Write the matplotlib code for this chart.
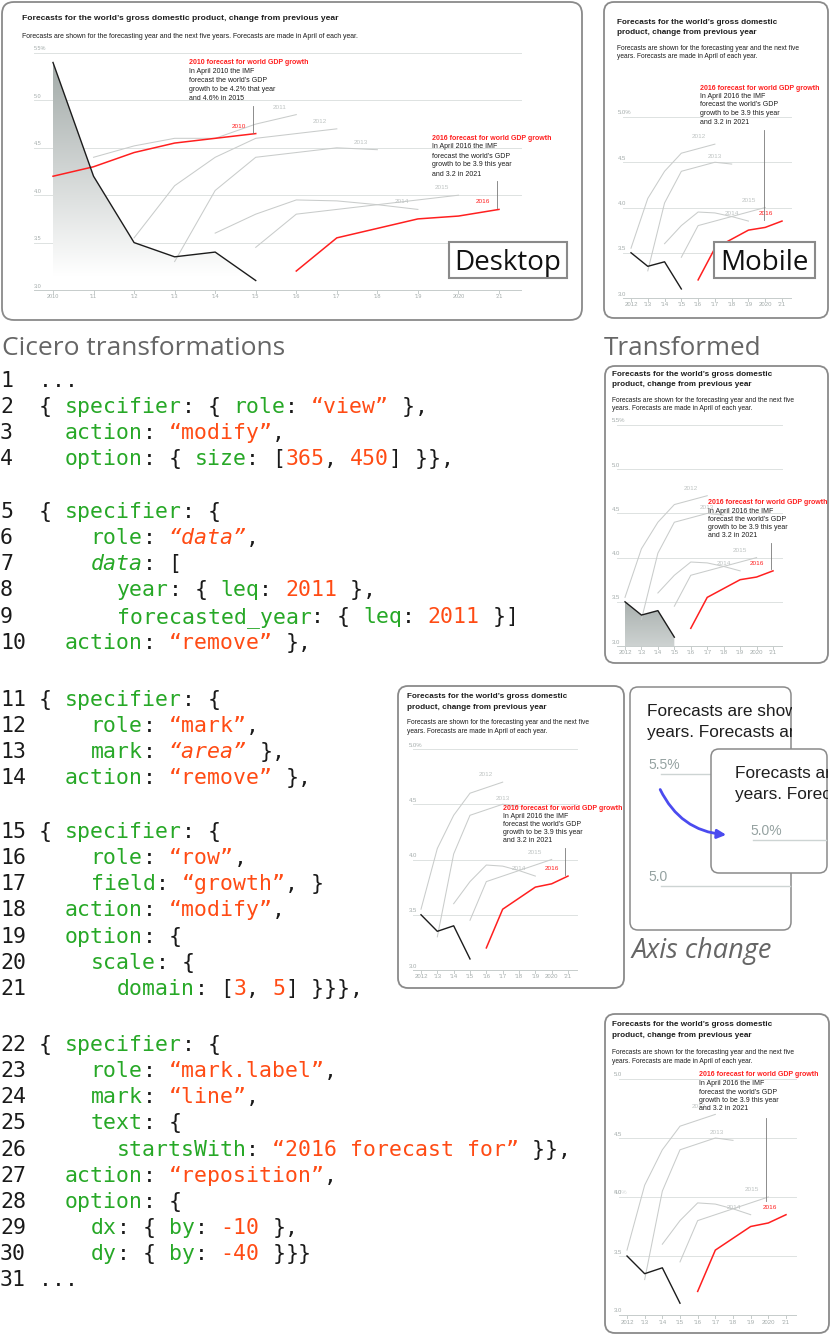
import re
import numpy as np
import matplotlib
matplotlib.use("Agg")
import matplotlib.pyplot as plt
from matplotlib.patches import FancyBboxPatch, Rectangle, Polygon, FancyArrowPatch
from matplotlib.colors import to_rgb

plt.rcParams["font.family"] = ["Liberation Sans", "DejaVu Sans"]

W, H = 830, 1336
PT = 0.72          # 1 px -> pt at dpi 100

# ---------- data ----------
years_actual = [2010, 2011, 2012, 2013, 2014, 2015]
growth_actual = [5.4, 4.2, 3.5, 3.35, 3.4, 3.1]
fc_2010 = [4.2, 4.3, 4.45, 4.55, 4.6, 4.65]
fc_2011 = [4.4, 4.52, 4.6, 4.6, 4.75, 4.85]
fc_2012 = [3.55, 4.1, 4.4, 4.6, 4.65, 4.7]
fc_2013 = [3.3, 4.05, 4.4, 4.45, 4.5, 4.48]
fc_2014 = [3.6, 3.8, 3.95, 3.94, 3.9, 3.85]
fc_2015 = [3.45, 3.8, 3.85, 3.9, 3.95, 4.0]
fc_2016 = [3.2, 3.55, 3.65, 3.75, 3.78, 3.85]
FORECASTS = {2010: fc_2010, 2011: fc_2011, 2012: fc_2012, 2013: fc_2013,
             2014: fc_2014, 2015: fc_2015, 2016: fc_2016}

title = "Forecasts for the world’s gross domestic product, change from previous year"
title_2l = ["Forecasts for the world’s gross domestic", "product, change from previous year"]
subtitle = ("Forecasts are shown for the forecasting year and the next five years. "
            "Forecasts are made in April of each year.")
subtitle_2l = ["Forecasts are shown for the forecasting year and the next five",
               "years. Forecasts are made in April of each year."]
head_2010 = "2010 forecast for world GDP growth"
body_2010 = ["In April 2010 the IMF", "forecast the world’s GDP",
             "growth to be 4.2% that year", "and 4.6% in 2015"]
head_2016 = "2016 forecast for world GDP growth"
body_2016 = ["In April 2016 the IMF", "forecast the world’s GDP",
             "growth to be 3.9 this year", "and 3.2 in 2021"]
ylab_55 = ["3.0", "3.5", "4.0", "4.5", "5.0", "5.5%"]
ylab_50 = ["3.0", "3.5", "4.0", "4.5", "5.0%"]
ylab_50b = ["3.0", "3.5", "4.0", "4.5", "5.0"]
# cropped subtitle pieces seen in the "axis change" close-up
zoom_back = ["Forecasts are show", "years. Forecasts are"]
zoom_front = ["Forecasts ar", "years. Forec"]

code_blocks = [
    ["...",
     "{ specifier: { role: “view” },",
     "  action: “modify”,",
     "  option: { size: [365, 450] }},"],
    ["{ specifier: {",
     "    role: “data”,",
     "    data: [",
     "      year: { leq: 2011 },",
     "      forecasted_year: { leq: 2011 }]",
     "  action: “remove” },"],
    ["{ specifier: {",
     "    role: “mark”,",
     "    mark: “area” },",
     "  action: “remove” },"],
    ["{ specifier: {",
     "    role: “row”,",
     "    field: “growth”, }",
     "  action: “modify”,",
     "  option: {",
     "    scale: {",
     "      domain: [3, 5] }}},"],
    ["{ specifier: {",
     "    role: “mark.label”,",
     "    mark: “line”,",
     "    text: {",
     "      startsWith: “2016 forecast for” }},",
     "  action: “reposition”,",
     "  option: {",
     "    dx: { by: -10 },",
     "    dy: { by: -40 }}}",
     "..."],
]
block_baselines = [387, 518, 706, 838, 1051]

# ---------- styles ----------
GRID, AXIS, LBL = "#dde2e1", "#c6cccb", "#a3abaa"
FCG, RED, BLACK = "#c9cccb", "#ff1f1f", "#1c1c1c"
EDGE = "#8a8a8a"
GREEN, ORANGE = "#27a827", "#ff4b14"
HEAD = ["Open Sans", "DejaVu Sans"]

fig = plt.figure(figsize=(W / 100, H / 100), dpi=100)
base = fig.add_axes([0, 0, 1, 1])
base.set_xlim(0, W); base.set_ylim(H, 0); base.axis("off")


def panel(ax, x0, y0, x1, y1, r=10, lw=1.3, z=1):
    p = FancyBboxPatch((x0 + r, y0 + r), x1 - x0 - 2 * r, y1 - y0 - 2 * r,
                       boxstyle=f"round,pad={r}", fc="white", ec=EDGE, lw=lw, zorder=z)
    ax.add_patch(p)
    return p


def chart(px_x, px_y, yr0, top, shown, red, ylabels, area=None, lbl_dx=0,
          leaders=(), ghost=None, fs=4.0):
    sx = (px_x[1] - px_x[0]) / (2021 - yr0)
    sy = (px_y[1] - px_y[0]) / (top - 3.0)
    L, R, T, B = px_x[0] - 40, px_x[1] + 30, px_y[0] - 20, px_y[1] + 20
    ax = fig.add_axes([L / W, 1 - B / H, (R - L) / W, (B - T) / H])
    xl = (yr0 + (L - px_x[0]) / sx, yr0 + (R - px_x[0]) / sx)
    yl = (3.0 - (B - px_y[1]) / sy, top + (px_y[0] - T) / sy)
    ax.axis("off")
    g0, g1 = yr0 - 0.47, 2021.55
    levels = np.arange(3.0, top + 0.01, 0.5)
    for v, lab in zip(levels, ylabels):
        ax.plot([g0, g1], [v, v], color=GRID if v > 3 else AXIS, lw=0.7, zorder=1)
        ax.annotate(lab, (g0, v), xytext=(lbl_dx * PT, 1.5 * PT), textcoords="offset points",
                    ha="left", va="bottom", fontsize=fs, color=LBL)
    if ghost:
        ax.annotate(ghost[1], (g0, ghost[0]), xytext=(lbl_dx * PT, 1.5 * PT),
                    textcoords="offset points", ha="left", va="bottom", fontsize=fs,
                    color=LBL, alpha=0.45)
    for y in range(yr0, 2022):
        ax.plot([y, y], [3.0, 3.0 - 3 / sy], color=AXIS, lw=0.7)
        lab = str(y) if y in (yr0, 2020) else "’" + str(y)[2:]
        ax.annotate(lab, (y, 3.0), xytext=(0, -7 * PT), textcoords="offset points",
                    ha="center", va="center", fontsize=fs, color=LBL)
    xa = [y for y in years_actual if y >= yr0]
    ya = [v for y, v in zip(years_actual, growth_actual) if y >= yr0]
    if area:
        (v_lo, c_lo), (v_hi, c_hi) = area
        vals = np.linspace(3.0, top, 300)
        t = np.clip((vals - v_lo) / (v_hi - v_lo), 0, 1)[:, None]
        rgb = np.array(to_rgb(c_lo)) * (1 - t) + np.array(to_rgb(c_hi)) * t
        im = ax.imshow(rgb[:, None, :], origin="lower", aspect="auto",
                       extent=(xa[0], xa[-1], 3.0, top), zorder=1.5)
        poly = Polygon(list(zip(xa, ya)) + [(xa[-1], 3.0), (xa[0], 3.0)],
                       closed=True, fc="none", ec="none", transform=ax.transData)
        ax.add_patch(poly)
        im.set_clip_path(poly)
    for fy in shown:
        vals = FORECASTS[fy]
        is_red = fy in red
        ax.plot(range(fy, fy + 6), vals, color=RED if is_red else FCG,
                lw=1.1 if is_red else 0.75, zorder=3 if is_red else 2)
        ax.annotate(str(fy), (fy + 5, vals[-1]), xytext=(-16.5 * PT, 7.5 * PT),
                    textcoords="offset points", ha="center", va="center",
                    fontsize=4.6, color=RED if is_red else "#bfc4c3")
    ax.plot(xa, ya, color=BLACK, lw=1.0, zorder=4)
    for lx, v0, v1 in leaders:
        ax.plot([lx, lx], [v0, v1], color="#7a7a7a", lw=0.6, zorder=4)
    ax.set_xlim(xl); ax.set_ylim(yl)
    return ax


# ---------- panel frames ----------
panel(base, 2, 2, 582, 320, r=12)
panel(base, 604, 2, 828, 318)
panel(base, 605, 366, 828, 663)
panel(base, 398, 686, 624, 988)
panel(base, 605, 1014, 829, 1333)

# ---------- charts ----------
all_fc = [2010, 2011, 2012, 2013, 2014, 2015, 2016]
small_fc = [2012, 2013, 2014, 2015, 2016]
chart((53, 499), (53, 290), 2010, 5.5, all_fc, {2010, 2016}, ylab_55,
      area=((3.15, "#ffffff"), (5.4, "#a2aaa8")), lbl_dx=0,
      leaders=[(2014.93, 4.66, 4.94), (2020.95, 3.86, 4.15)])
chart((631, 782), (117, 298), 2012, 5.0, small_fc, {2016}, ylab_50, lbl_dx=-5,
      leaders=[(2019.9, 3.86, 4.86)], fs=4.3)
chart((625, 773), (425, 646), 2012, 5.5, small_fc, {2016}, ylab_55,
      area=((3.0, "#cdd2d1"), (3.5, "#a9b0ae")), lbl_dx=-5,
      leaders=[(2020.88, 3.87, 4.17)], fs=4.3)
chart((421, 568), (749, 970), 2012, 5.0, small_fc, {2016}, ylab_50, lbl_dx=-5,
      leaders=[(2020.82, 3.86, 4.10)], fs=4.3)
chart((627, 786), (1079, 1315), 2012, 5.0, small_fc, {2016}, ylab_50b, lbl_dx=-5,
      leaders=[(2019.87, 3.97, 4.67)], ghost=(4.0, "5.0%"), fs=4.3)

# ---------- overlay: titles, annotations, labels ----------
top = fig.add_axes([0, 0, 1, 1], zorder=5)
top.set_xlim(0, W); top.set_ylim(H, 0); top.axis("off")


def lines(x, y, rows, pitch, fs, color="#1e1e1e", weight="normal"):
    for i, s in enumerate(rows):
        top.text(x, y + i * pitch, s, fontsize=fs, color=color, weight=weight,
                 ha="left", va="center")


def annot(x, y, head, body, pitch):
    top.text(x, y, head, fontsize=5.0, color=RED, weight="bold", ha="left", va="center")
    lines(x, y + pitch, body, pitch, 5.0)


lines(22, 18, [title], 10, 6.1, weight="bold")
lines(22, 36, [subtitle], 9, 4.95)
annot(189, 63, head_2010, body_2010, 8.8)
annot(432, 138, head_2016, body_2016, 9.0)

for x, yt, ys in [(617, 22, 48), (612, 374, 400), (407, 697, 723), (612, 1025, 1053)]:
    lines(x, yt, title_2l, 10.3, 5.9, weight="bold")
    lines(x, ys, subtitle_2l, 8.6, 4.8)
annot(700, 88, head_2016, body_2016, 8.5)
annot(708, 503, head_2016, body_2016, 8.1)
annot(503, 808, head_2016, body_2016, 8.2)
annot(699, 1075, head_2016, body_2016, 8.5)

for (x0, y0, x1, y1), word in [((449, 242, 567, 278), "Desktop"), ((714, 242, 815, 278), "Mobile")]:
    top.add_patch(Rectangle((x0, y0), x1 - x0, y1 - y0, fc="white", ec=EDGE, lw=1.5))
    top.text((x0 + x1) / 2, 270, word, family=HEAD, fontsize=20, color="#111111",
             ha="center", va="baseline")

top.text(2, 355, "Cicero transformations", family=HEAD, fontsize=19, color="#666666",
         ha="left", va="baseline")
top.text(604, 355, "Transformed", family=HEAD, fontsize=18.7, color="#666666",
         ha="left", va="baseline")

# ---------- axis change inset (explicit stacking order) ----------
ZF = "#95a2a1"
panel(top, 630, 687, 791, 930, r=8, lw=1.1, z=10)
for s, y in zip(zoom_back, [712, 732]):
    top.text(647, y, s, fontsize=12.4, color="#1e1e1e", ha="left", va="center", zorder=11)
top.add_patch(Rectangle((791.8, 695), 40, 50, fc="white", ec="none", zorder=12))
top.text(648, 765, "5.5%", fontsize=10, color=ZF, ha="left", va="center", zorder=11)
top.plot([661, 790], [774, 774], color="#cdd4d3", lw=1.0, zorder=11)
top.text(648, 877, "5.0", fontsize=10, color=ZF, ha="left", va="center", zorder=11)
top.plot([661, 790], [886, 886], color="#cdd4d3", lw=1.0, zorder=11)
panel(top, 711, 749, 827, 873, r=8, lw=1.1, z=13)
for s, y in zip(zoom_front, [774, 795]):
    top.text(735, y, s, fontsize=12.4, color="#1e1e1e", ha="left", va="center", zorder=14)
top.text(750, 831, "5.0%", fontsize=10, color=ZF, ha="left", va="center", zorder=14)
top.plot([753, 826], [840, 840], color="#cdd4d3", lw=1.0, zorder=14)
top.add_patch(Rectangle((827.7, 755), 4, 60, fc="white", ec="none", zorder=15))
top.add_patch(FancyArrowPatch((659, 787), (729, 835), connectionstyle="arc3,rad=0.3",
                              arrowstyle="-|>", mutation_scale=13, color="#4b4bef", lw=2,
                              zorder=16))
top.text(632, 958, "Axis change", family=HEAD, fontsize=19.5, style="italic",
         color="#666666", ha="left", va="baseline")

# ---------- code listing ----------
CODE_FS = 15.5
CW = 0.6021 * CODE_FS / PT
TOKEN = re.compile(r"“[^”]*”|-?\d+|[A-Za-z_]+|\s+|.")
n = 1
for block, y0 in zip(code_blocks, block_baselines):
    for k, s in enumerate(block):
        y = y0 + k * 26.15
        top.text(0, y, str(n), family="DejaVu Sans Mono", fontsize=CODE_FS,
                 color="#1a1a1a", va="baseline")
        for m in TOKEN.finditer(s):
            tok = m.group()
            if tok.isspace():
                continue
            if tok.startswith("“") or re.fullmatch(r"-?\d+", tok):
                col = ORANGE
            elif re.fullmatch(r"[A-Za-z_]+", tok):
                col = GREEN
            else:
                col = "#1a1a1a"
            st = "italic" if ("data" in tok or "area" in tok) else "normal"
            top.text((3 + m.start()) * CW, y, tok, family="DejaVu Sans Mono",
                     fontsize=CODE_FS, color=col, style=st, va="baseline")
        n += 1

fig.savefig("out.png", dpi=100)
